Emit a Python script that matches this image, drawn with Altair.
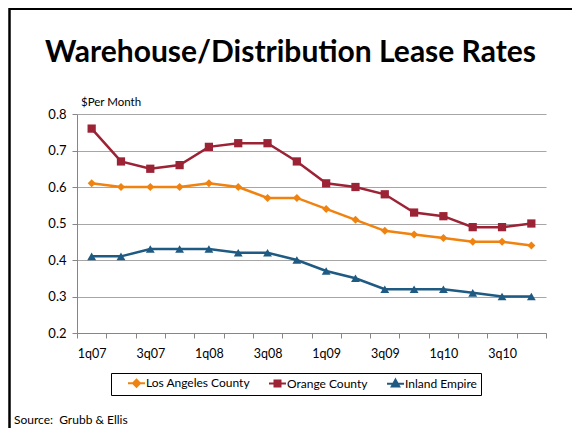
import altair as alt
import pandas as pd

quarters = ["1q07", "2q07", "3q07", "4q07", "1q08", "2q08", "3q08", "4q08",
            "1q09", "2q09", "3q09", "4q09", "1q10", "2q10", "3q10", "4q10"]
series_names = ["Los Angeles County", "Orange County", "Inland Empire"]
la_values = [0.61, 0.60, 0.60, 0.60, 0.61, 0.60, 0.57, 0.57, 0.54, 0.51, 0.48, 0.47, 0.46, 0.45, 0.45, 0.44]
oc_values = [0.76, 0.67, 0.65, 0.66, 0.71, 0.72, 0.72, 0.67, 0.61, 0.60, 0.58, 0.53, 0.52, 0.49, 0.49, 0.50]
ie_values = [0.41, 0.41, 0.43, 0.43, 0.43, 0.42, 0.42, 0.40, 0.37, 0.35, 0.32, 0.32, 0.32, 0.31, 0.30, 0.30]
y_ticks = [0.2, 0.3, 0.4, 0.5, 0.6, 0.7, 0.8]

title_text = "Warehouse/Distribution Lease Rates"
unit_text = "$Per Month"
source_text = "Source:\u00a0 Grubb & Ellis"

colors = ["#F0820F", "#9B2335", "#1F5A82"]
markers = ["diamond", "square", "triangle-up"]
marker_sizes = [64, 68, 78]
# legend glyphs: a short line with the series marker on it
legend_paths = [
    "M-1.6,0L1.8,0M0.1,-0.7L0.8,0L0.1,0.7L-0.6,0ZM0.1,-0.3L0.4,0L0.1,0.3L-0.2,0Z",
    "M-1.6,0L1.8,0M-0.5,-0.6L0.7,-0.6L0.7,0.6L-0.5,0.6ZM-0.2,-0.3L0.4,-0.3L0.4,0.3L-0.2,0.3Z",
    "M-1.6,0L1.8,0M0.1,-0.8L0.85,0.55L-0.65,0.55ZM0.1,-0.35L0.4,0.3L-0.2,0.3Z",
]

rows = []
for name, vals in zip(series_names, [la_values, oc_values, ie_values]):
    for q, v in zip(quarters, vals):
        rows.append({"quarter": q, "series": name, "value": v})
df = pd.DataFrame(rows)
legend_df = pd.DataFrame({"series": series_names})

FONT = "Lato"
W, H = 469, 219
PAD_L, PAD_T = 69, 106
SVG_W, SVG_H = 564, 420

x_enc = alt.X(
    "quarter:N", sort=quarters, title=None,
    scale=alt.Scale(type="band", domain=quarters, paddingInner=0, paddingOuter=0),
    axis=alt.Axis(
        labelExpr="(substring(datum.value,0,1)=='1' || substring(datum.value,0,1)=='3') ? datum.value : ''",
        labelAngle=0, labelOverlap=False, tickBand="extent", tickSize=5, labelPadding=9,
        domainColor="#868686", tickColor="#868686", grid=False,
        labelFont=FONT, labelFontSize=12.5, labelColor="black",
    ),
)
y_enc = alt.Y(
    "value:Q", title=None,
    scale=alt.Scale(domain=[0.2, 0.8], nice=False, zero=False),
    axis=alt.Axis(
        values=y_ticks, format=".1f", grid=True, gridColor="#A6A6A6", gridWidth=1,
        tickSize=5, labelPadding=6, domainColor="#868686", tickColor="#868686",
        labelFont=FONT, labelFontSize=13, labelColor="black",
    ),
)
color_scale = alt.Scale(domain=series_names, range=colors)

leg = alt.Legend(
    title=None, orient="none", legendX=34, legendY=259, direction="horizontal",
    strokeColor="black", padding=4, columnPadding=6, symbolSize=100, symbolStrokeWidth=2,
    symbolOffset=15, labelOffset=4,
    labelFont=FONT, labelFontSize=12, labelColor="black", labelLimit=300,
)

# legend-only layer (drawn off-canvas); placed first so its legend settings win the merge
legend_layer = alt.Chart(legend_df).mark_point(filled=False, opacity=1, strokeWidth=2, size=100).encode(
    x=alt.value(-600), y=alt.value(-600),
    color=alt.Color("series:N", scale=color_scale, legend=leg),
    shape=alt.Shape("series:N", scale=alt.Scale(domain=series_names, range=legend_paths), legend=leg),
)

lines = alt.Chart(df).mark_line(strokeWidth=2.5).encode(
    x=x_enc, y=y_enc, color=alt.Color("series:N", scale=color_scale, legend=None))

point_layers = []
for name, shp, sz in zip(series_names, markers, marker_sizes):
    point_layers.append(
        alt.Chart(df).transform_filter(alt.datum.series == name)
        .mark_point(filled=True, shape=shp, size=sz, opacity=1)
        .encode(x=x_enc, y=y_enc,
                color=alt.Color("series:N", scale=color_scale, legend=None))
    )

one = pd.DataFrame({"t": [title_text], "u": [unit_text], "s": [source_text]})

title_layer = alt.Chart(one).mark_text(
    font=FONT, fontSize=30, fontWeight="bold", align="center", baseline="alphabetic", color="black"
).encode(text="t:N", x=alt.value(213.5), y=alt.value(-52))

unit_layer = alt.Chart(one).mark_text(
    font=FONT, fontSize=11.5, align="left", baseline="middle", color="black"
).encode(text="u:N", x=alt.value(4), y=alt.value(-11))

source_layer = alt.Chart(one).mark_text(
    font=FONT, fontSize=12, align="left", baseline="alphabetic", color="black"
).encode(text="s:N", x=alt.value(-63), y=alt.value(310))

border_top = alt.Chart(one).mark_rule(color="black", strokeWidth=2).encode(
    x=alt.value(-PAD_L + 1), x2=alt.value(SVG_W - PAD_L), y=alt.value(-PAD_T + 1)
)
border_left = alt.Chart(one).mark_rule(color="black", strokeWidth=2.5).encode(
    x=alt.value(-PAD_L + 1.5), y=alt.value(-PAD_T), y2=alt.value(SVG_H - PAD_T)
)

chart = alt.layer(
    legend_layer, lines, *point_layers,
    title_layer, unit_layer, source_layer, border_top, border_left,
).properties(
    width=W, height=H,
    autosize=alt.AutoSizeParams(type="none"),
    padding={"left": PAD_L, "top": PAD_T, "right": SVG_W - PAD_L - W, "bottom": SVG_H - PAD_T - H},
).configure_view(stroke=None)

chart.save("out.html", embed_options={"renderer": "svg", "actions": False})
